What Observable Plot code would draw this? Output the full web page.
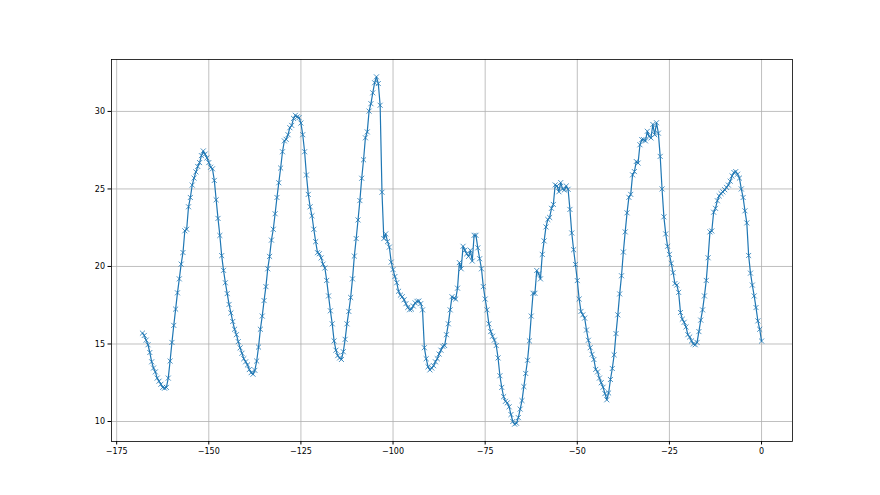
<!DOCTYPE html>
<html><head><meta charset="utf-8">
<script src="https://cdn.jsdelivr.net/npm/d3@7"></script>
<script src="https://cdn.jsdelivr.net/npm/@observablehq/plot@0.6"></script>
<style>html,body{margin:0;padding:0;background:#fff} svg{display:block}</style>
</head><body><div id="chart"></div>
<script>
// time axis: hours before now, one reading every half hour
const hourStart = -168;
const hourStep = 0.5;
// readings
const readings = [
  15.70, 15.55, 15.25, 14.95, 14.45, 13.85, 13.45, 13.20, 12.80, 12.60,
  12.40, 12.20, 12.15, 12.20, 12.80, 13.90, 15.10, 16.20, 17.25, 18.30,
  19.20, 20.15, 20.90, 22.30, 22.40, 23.85, 24.45, 25.25, 25.70, 26.10,
  26.45, 26.70, 27.15, 27.45, 27.25, 27.00, 26.70, 26.40, 26.30, 25.55,
  24.30, 23.10, 22.00, 20.70, 19.75, 18.95, 18.25, 17.55, 17.00, 16.45,
  15.95, 15.60, 15.15, 14.75, 14.40, 14.05, 13.85, 13.65, 13.35, 13.15,
  13.05, 13.30, 13.90, 14.80, 15.95, 16.80, 17.80, 18.70, 19.85, 20.65,
  21.70, 22.40, 23.40, 24.45, 25.40, 26.35, 27.40, 28.10, 28.20, 28.50,
  28.95, 29.10, 29.55, 29.75, 29.65, 29.60, 29.25, 28.50, 27.40, 25.90,
  24.65, 23.85, 23.27, 22.40, 21.60, 20.89, 20.82, 20.55, 20.15, 19.90,
  19.10, 18.10, 17.14, 16.30, 15.20, 14.60, 14.25, 14.10, 14.00, 14.50,
  15.30, 16.30, 17.10, 18.00, 19.20, 20.67, 21.80, 23.00, 24.25, 25.69,
  26.88, 28.30, 28.68, 30.02, 30.50, 31.20, 31.85, 32.23, 31.80, 30.40,
  24.79, 21.80, 22.10, 21.60, 21.25, 20.28, 19.80, 19.35, 18.95, 18.40,
  18.15, 18.05, 17.85, 17.60, 17.36, 17.21, 17.25, 17.45, 17.65, 17.75,
  17.77, 17.60, 17.20, 14.76, 14.05, 13.53, 13.33, 13.45, 13.60, 13.85,
  14.05, 14.35, 14.60, 14.85, 14.90, 15.60, 16.30, 17.20, 18.05, 17.95,
  17.90, 18.60, 20.25, 19.85, 21.30, 21.05, 20.82, 20.65, 21.04, 20.35,
  22.01, 22.01, 21.20, 20.50, 19.85, 18.70, 17.90, 17.20, 16.30, 15.80,
  15.50, 15.25, 14.90, 14.10, 12.95, 12.20, 11.60, 11.30, 11.20, 10.95,
  10.45, 10.00, 9.83, 9.89, 10.25, 10.80, 11.35, 12.25, 13.10, 13.95,
  15.20, 16.80, 18.27, 18.27, 19.74, 19.52, 19.20, 20.78, 21.65, 22.55,
  23.03, 23.16, 23.75, 24.00, 25.26, 25.19, 24.82, 25.41, 25.00, 24.94,
  25.19, 24.98, 23.68, 22.16, 21.08, 20.13, 19.09, 17.90, 17.10, 16.88,
  16.67, 15.90, 15.24, 14.76, 14.33, 14.00, 13.36, 13.20, 12.80, 12.50,
  12.21, 11.80, 11.40, 11.84, 12.71, 13.42, 14.30, 15.67, 16.88, 18.23,
  19.40, 20.93, 22.23, 23.46, 24.46, 24.65, 25.91, 26.12, 26.77, 26.67,
  27.85, 28.18, 28.18, 28.10, 28.72, 28.40, 28.29, 29.16, 28.50, 29.27,
  28.60, 27.10, 25.00, 23.20, 22.10, 21.30, 20.78, 20.20, 19.60, 18.90,
  18.80, 18.33, 17.03, 16.60, 16.40, 16.10, 15.60, 15.45, 15.20, 15.00,
  14.95, 15.10, 15.80, 16.54, 17.20, 18.10, 19.10, 20.56, 22.23, 22.29,
  23.50, 23.75, 24.24, 24.55, 24.70, 24.81, 24.95, 25.10, 25.25, 25.50,
  25.84, 26.06, 26.12, 25.95, 25.70, 25.00, 24.45, 23.59, 22.81, 20.71,
  19.57, 18.80, 18.10, 17.35, 16.49, 15.95, 15.19
];
const xTicks = [-175, -150, -125, -100, -75, -50, -25, 0];
const yTicks = [10, 15, 20, 25, 30];

const data = readings.map((v, i) => ({hour: hourStart + i * hourStep, value: v}));

// matplotlib-style 5% auto margins
function padded(ext) { const d = (ext[1] - ext[0]) * 0.05; return [ext[0] - d, ext[1] + d]; }
const xDomain = padded(d3.extent(data, d => d.hour));
const yDomain = padded(d3.extent(data, d => d.value));
const fmt = d => d < 0 ? "\u2212" + Math.abs(d) : String(d);

const chart = Plot.plot({
  width: 880,
  height: 495,
  marginLeft: 111,
  marginRight: 88,
  marginTop: 59,
  marginBottom: 54,
  style: {fontFamily: "DejaVu Sans, sans-serif", fontSize: "8px", background: "#fff", color: "#000"},
  x: {domain: xDomain, ticks: xTicks, tickSize: 3.5, tickPadding: 3, tickFormat: fmt, label: null},
  y: {domain: yDomain, ticks: yTicks, tickSize: 3.5, tickPadding: 3, tickFormat: fmt, label: null},
  marks: [
    Plot.gridX(xTicks, {stroke: "#b0b0b0", strokeOpacity: 1, strokeWidth: 0.8}),
    Plot.gridY(yTicks, {stroke: "#b0b0b0", strokeOpacity: 1, strokeWidth: 0.8}),
    Plot.line(data, {x: "hour", y: "value", stroke: "#1f77b4", strokeWidth: 1.2}),
    Plot.dot(data, {x: "hour", y: "value", symbol: "times", r: 2.4, stroke: "#1f77b4", strokeWidth: 0.8}),
    Plot.frame({stroke: "#000", strokeWidth: 0.8})
  ]
});
document.getElementById("chart").appendChild(chart);
</script>
</body></html>
